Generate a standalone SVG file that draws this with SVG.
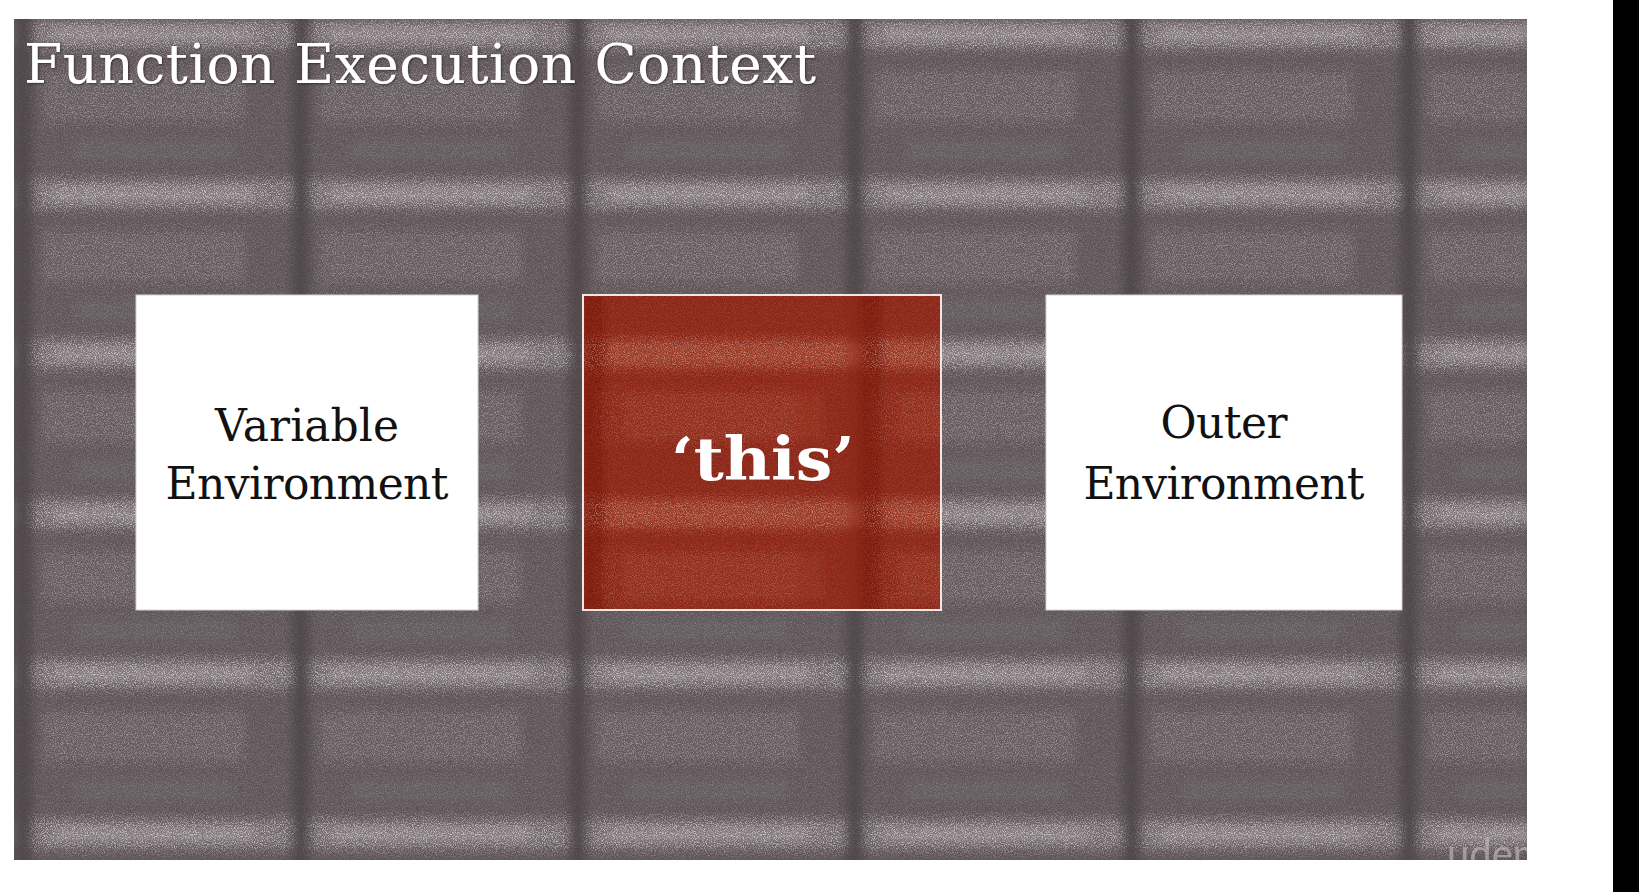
<svg xmlns="http://www.w3.org/2000/svg" width="1639" height="892" viewBox="0 0 1639 892">
  <defs>
    <style>
      .label { font-family: "DejaVu Serif", "Liberation Serif", serif; font-size: 44px; fill: #111; text-anchor: middle; }
      .title { font-family: "DejaVu Serif", "Liberation Serif", serif; font-size: 55px; fill: #fff; }
      .this { font-family: "DejaVu Serif", "Liberation Serif", serif; font-weight: bold; font-size: 60px; fill: #fff; text-anchor: middle; }
      .card { fill: #fff; stroke: #d8d0d2; stroke-width: 1; }
    </style>

    <!-- tiled backdrop: dark left stripe per tile, pale mottled horizontal bands -->
    <pattern id="tiles" x="14" y="19" width="277" height="160" patternUnits="userSpaceOnUse">
      <rect width="277" height="160" fill="#5e5559"/>
      <rect x="22" y="3" width="255" height="24" fill="#80777b" opacity="0.6"/>
      <rect x="40" y="9" width="200" height="12" fill="#9d9498" opacity="0.5"/>
      <rect x="30" y="55" width="200" height="45" fill="#6a6165" opacity="0.6"/>
      <rect x="60" y="120" width="160" height="22" fill="#6a6165" opacity="0.5"/>
      <rect x="0" y="0" width="19" height="160" fill="#4f464a"/>
    </pattern>

    <!-- where the speckle is densest: the pale bands -->
    <pattern id="bandMask" x="14" y="19" width="277" height="160" patternUnits="userSpaceOnUse">
      <rect width="277" height="160" fill="#555"/>
      <rect x="20" y="0" width="257" height="30" fill="#fff"/>
      <rect x="30" y="50" width="200" height="55" fill="#999"/>
      <rect x="0" y="0" width="19" height="160" fill="#222"/>
    </pattern>
    <mask id="bands" maskUnits="userSpaceOnUse" x="0" y="0" width="1639" height="892">
      <rect x="14" y="19" width="1513" height="841" fill="url(#bandMask)" filter="url(#soft)"/>
    </mask>

    <pattern id="redtiles" x="583" y="19" width="277" height="160" patternUnits="userSpaceOnUse">
      <rect width="277" height="160" fill="#8c2714"/>
      <rect x="24" y="3" width="253" height="24" fill="#a84a36" opacity="0.55"/>
      <rect x="40" y="55" width="200" height="45" fill="#9a3522" opacity="0.5"/>
      <rect x="0" y="0" width="22" height="160" fill="#7f1c0b"/>
    </pattern>

    <filter id="soft" x="0" y="0" width="100%" height="100%">
      <feGaussianBlur stdDeviation="5"/>
    </filter>

    <filter id="grain" x="0" y="0" width="100%" height="100%">
      <feTurbulence type="fractalNoise" baseFrequency="0.9" numOctaves="2" seed="7" result="n"/>
      <feColorMatrix in="n" type="matrix" values="0 0 0 0 1  0 0 0 0 1  0 0 0 0 1  3.4 0 0 0 -1.5"/>
    </filter>

    <filter id="shadow" x="-5%" y="-20%" width="110%" height="140%">
      <feDropShadow dx="1" dy="1" stdDeviation="1" flood-color="#2a2226" flood-opacity="0.8"/>
    </filter>

    <clipPath id="slideClip">
      <rect x="14" y="19" width="1513" height="841"/>
    </clipPath>
    <clipPath id="thisClip">
      <rect x="583" y="295" width="358" height="315"/>
    </clipPath>
  </defs>

  <!-- page -->
  <rect width="1639" height="892" fill="#ffffff"/>
  <rect x="1613" y="0" width="26" height="892" fill="#000"/>

  <!-- slide backdrop -->
  <g id="backdrop" clip-path="url(#slideClip)">
    <rect x="0" y="0" width="1560" height="892" fill="url(#tiles)" filter="url(#soft)"/>
    <rect x="14" y="19" width="1513" height="841" filter="url(#grain)" opacity="0.55" mask="url(#bands)"/>
    <text x="1447" y="868" font-family="Lato, 'Open Sans', sans-serif" font-size="40" fill="#c9c2c5" opacity="0.6">udemy</text>
  </g>

  <g id="title">
    <text class="title" x="24" y="83" textLength="792" filter="url(#shadow)">Function Execution Context</text>
  </g>

  <g id="variable-environment">
    <rect class="card" x="136" y="295" width="342" height="315"/>
    <text class="label" x="307" y="441" textLength="184">Variable</text>
    <text class="label" x="307" y="499" textLength="283">Environment</text>
  </g>

  <g id="this">
    <g clip-path="url(#thisClip)">
      <rect x="560" y="270" width="400" height="360" fill="url(#redtiles)" filter="url(#soft)"/>
      <rect x="583" y="295" width="358" height="315" filter="url(#grain)" opacity="0.35" mask="url(#bands)"/>
    </g>
    <rect x="583" y="295" width="358" height="315" fill="none" stroke="#f1e6e3" stroke-width="2"/>
    <text class="this" x="763" y="480" textLength="184" lengthAdjust="spacingAndGlyphs">‘this’</text>
  </g>

  <g id="outer-environment">
    <rect class="card" x="1046" y="295" width="356" height="315"/>
    <text class="label" x="1224" y="438" textLength="127">Outer</text>
    <text class="label" x="1224" y="499" textLength="281">Environment</text>
  </g>

  <g id="connectors"></g>
</svg>
